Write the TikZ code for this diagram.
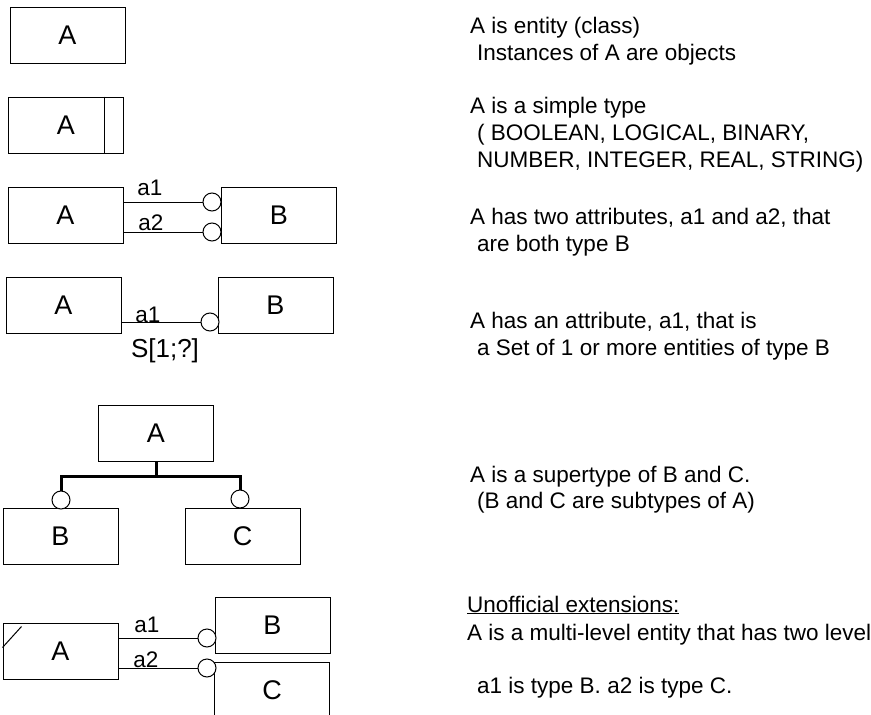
\documentclass[tikz,border=0pt]{standalone}
\usepackage{fontspec}
\setmainfont{Liberation Sans}
\tikzset{%
    ent/.style={draw, line width=1pt, minimum width=115pt, minimum height=56pt, inner sep=0pt, font=\fontsize{27}{27}\selectfont},
    lin/.style={line width=1pt},
    thk/.style={line width=3pt},
    rng/.style={circle, draw, line width=1pt, fill=white, minimum size=18pt, inner sep=0pt},
    lab/.style={anchor=base, inner sep=0pt, font=\fontsize{22.5}{22.5}\selectfont},
    txt/.style={anchor=base west, inner sep=0pt, font=\fontsize{22.5}{22.5}\selectfont}
}

\begin{document}
\begin{tikzpicture}[x=1pt, y=-1pt]
    \useasboundingbox (0,0) rectangle (871,715);
    % entity
    \node[ent] (a1) at (67.5,35) {A};
    % simple type
    \node[ent] (a2) at (66,125) {A};
    \draw[lin] (a2.north east) ++(-20,0) -- ++(0,56);
    % two attributes of type B
    \node[ent] (a3) at (65.5,215) {A};
    \node[ent] (b3) at (279,215) {B};
    \node[rng] (r31) at (212,202) {};
    \node[rng] (r32) at (212,232) {};
    \draw[lin] (a3.east |- r31) -- (r31);
    \draw[lin] (a3.east |- r32) -- (r32);
    \node[lab] (l31) at (150,195) {a1};
    \node[lab] (l32) at (151,230) {a2};
    % set attribute
    \node[ent] (a4) at (63.5,305) {A};
    \node[ent] (b4) at (275.5,305) {B};
    \node[rng] (r4) at (210,322) {};
    \draw[lin] (a4.east |- r4) -- (r4);
    \node[lab] (l4) at (148,322) {a1};
    \node[lab, font=\fontsize{26}{26}\selectfont] (s4) at (165,357) {S[1;?]};
    % supertype / subtypes
    \node[ent] (a5) at (156,433) {A};
    \node[ent] (b5) at (60.5,536) {B};
    \node[ent] (c5) at (242.5,536) {C};
    \node[rng] (r51) at (61,500) {};
    \node[rng] (r52) at (240,499) {};
    \coordinate (j5) at (156,476);
    \draw[thk] (a5) -- (j5) -| (r51);
    \draw[thk] (j5) -| (r52);
    % multi-level entity
    \node[ent] (a6) at (60.5,651) {A};
    \node[ent] (b6) at (272.5,625) {B};
    \node[ent] (c6) at (272,690) {C};
    \draw[lin] ([yshift=-25pt]a6.north west) -- ([shift={(19,4)}]a6.north west);
    \node[rng] (r61) at (207,638) {};
    \node[rng] (r62) at (207,668) {};
    \draw[lin] (a6.east |- r61) -- (r61);
    \draw[lin] (a6.east |- r62) -- (r62);
    \node[lab] (l61) at (147,632) {a1};
    \node[lab] (l62) at (146,667) {a2};
    % explanations
    \node[txt] (t11) at (470,33) {A is entity (class)};
    \node[txt] (t12) at (477,60) {Instances of A are objects};
    \node[txt] (t21) at (470,113) {A is a simple type};
    \node[txt] (t22) at (477,140) {( BOOLEAN, LOGICAL, BINARY,};
    \node[txt] (t23) at (477,167) {NUMBER, INTEGER, REAL, STRING)};
    \node[txt] (t31) at (470,224) {A has two attributes, a1 and a2, that};
    \node[txt] (t32) at (477,251) {are both type B};
    \node[txt] (t41) at (470,328) {A has an attribute, a1, that is};
    \node[txt] (t42) at (477,355) {a Set of 1 or more entities of type B};
    \node[txt] (t51) at (470,482) {A is a supertype of B and C.};
    \node[txt] (t52) at (477,508) {(B and C are subtypes of A)};
    \node[txt] (t61) at (467,612) {\underline{Unofficial extensions:}};
    \node[txt] (t62) at (467,640) {A is a multi-level entity that has two level};
    \node[txt] (t63) at (477,693) {a1 is type B. a2 is type C.};
\end{tikzpicture}
\end{document}
